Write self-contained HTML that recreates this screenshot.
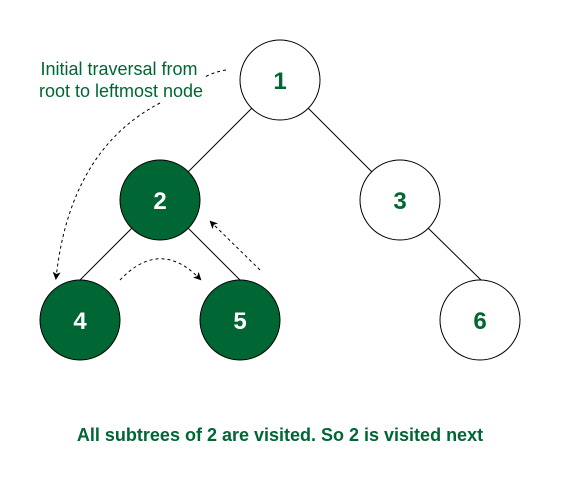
<!DOCTYPE html>
<html><head><style>html,body{margin:0;padding:0;background:#fff}</style></head>
<body>
<svg width="561" height="481" viewBox="0 0 561 481" xmlns="http://www.w3.org/2000/svg" font-family="Liberation Sans, sans-serif">
<defs><marker id="a" markerWidth="8" markerHeight="8" refX="6" refY="4" orient="auto" markerUnits="userSpaceOnUse"><path d="M0,0 L8,4 L0,8 L2,4 Z" fill="#000"/></marker></defs>
<g stroke="#000" stroke-width="1">
<line x1="252" y1="108" x2="188" y2="172"/>
<line x1="308" y1="108" x2="372" y2="172"/>
<line x1="132" y1="228" x2="80" y2="280"/>
<line x1="188" y1="228" x2="240" y2="280"/>
<line x1="428" y1="228" x2="482" y2="281"/>
</g>
<g stroke="#000" stroke-width="1">
<circle cx="280" cy="80" r="40" fill="#fff"/>
<circle cx="160" cy="200" r="40" fill="#006633"/>
<circle cx="400" cy="200" r="40" fill="#fff"/>
<circle cx="80" cy="320" r="40" fill="#006633"/>
<circle cx="240" cy="320" r="40" fill="#006633"/>
<circle cx="480" cy="320" r="40" fill="#fff"/>
</g>
<g font-size="24" font-weight="bold" text-anchor="middle">
<text x="280" y="89" fill="#006633">1</text>
<text x="160" y="209" fill="#fff">2</text>
<text x="400" y="209" fill="#006633">3</text>
<text x="80" y="329" fill="#fff">4</text>
<text x="240" y="329" fill="#fff">5</text>
<text x="480" y="329" fill="#006633">6</text>
</g>
<g fill="none" stroke="#000" stroke-width="1" stroke-dasharray="3,3">
<path d="M226,70 Q214,72 205,77"/>
<path d="M160,103 Q70,150 56,278" marker-end="url(#a)"/>
<path d="M120,280 Q160,238 200,279" marker-end="url(#a)"/>
<path d="M260,270 L211,222" marker-end="url(#a)"/>
</g>
<g fill="#006633" font-size="18" text-anchor="middle">
<text x="119" y="75">Initial traversal from</text>
<text x="121" y="97">root to leftmost node</text>
</g>
<text x="280" y="441" fill="#006633" font-size="18" font-weight="bold" text-anchor="middle">All subtrees of 2 are visited. So 2 is visited next</text>
</svg>
</body></html>
